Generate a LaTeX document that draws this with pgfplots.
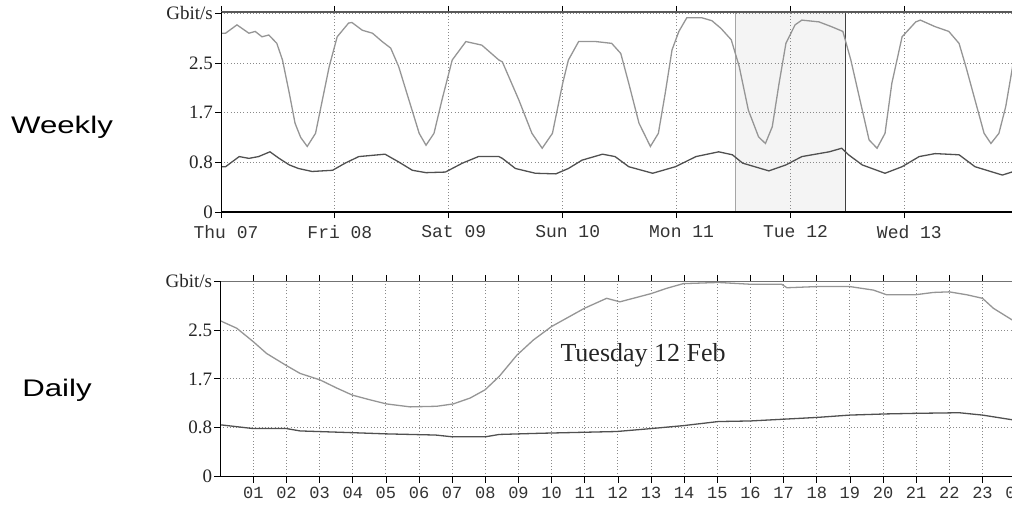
\documentclass[border=0pt]{standalone}
\usepackage{pgfplots}
\pgfplotsset{compat=1.18}
\usepackage{fontspec}
\setmainfont{Liberation Serif}
\newfontfamily\lsans{Liberation Sans}
\newfontfamily\lmono{Liberation Mono}
\definecolor{upc}{HTML}{959595}
\definecolor{loc}{HTML}{505050}
\definecolor{gridc}{HTML}{8A8A8A}
\definecolor{shade}{HTML}{F4F4F4}
\pgfplotsset{
  common/.style={
    scale only axis, set layers,
    axis line style={draw=none},
    tick align=outside, major tick length=6pt,
    tick style={black, line width=0.8pt},
    grid=major,
    major grid style={gridc, line width=0.9pt, dash pattern=on 1pt off 2.2pt},
    ytick={0,0.8333,1.6667,2.5,3.3333},
    yticklabels={0,0.8,1.7,2.5,\raisebox{-4pt}{Gbit/s}},
    yticklabel style={font=\fontsize{19}{19}\selectfont, text=black!85, anchor=east, inner sep=0pt, xshift=-2pt},
    ymin=0,
  },
}
\begin{document}
\begin{tikzpicture}
% Weekly
\begin{axis}[common,
  at={(221pt,295pt)}, anchor=south west,
  width=809pt, height=200pt,
  xmin=0, xmax=7.103, ymax=3.356,
  xtick={0,1,2,3,4,5,6},
  xticklabels={Thu 07,Fri 08,Sat 09,Sun 10,Mon 11,Tue 12,Wed 13},
  xticklabel style={font=\lmono\fontsize{18}{18}\selectfont, text=black!80, anchor=north, inner sep=0pt, yshift=-7pt, xshift=5pt},
]
\addplot[fill=shade, draw=none, on layer=axis background] coordinates {(4.52,0) (4.52,3.356) (5.48,3.356) (5.48,0)} \closedcycle;
\addplot[color=black!35, line width=1pt] coordinates {(4.52,0) (4.52,3.356)};
\addplot[color=black!75, line width=1.2pt] coordinates {(5.48,0) (5.48,3.356)};
\addplot[color=upc, line width=1.3pt] coordinates {
(0.00,3.00) (0.04,3.00) (0.14,3.14) (0.245,3.00) (0.30,3.03) (0.36,2.94) (0.42,2.97) (0.49,2.83) (0.54,2.55) (0.60,1.99) (0.65,1.49) (0.70,1.25) (0.757,1.10) (0.83,1.32) (0.89,1.88) (0.95,2.44) (1.02,2.94) (1.12,3.17) (1.15,3.18) (1.24,3.05) (1.33,3.00) (1.415,2.86) (1.49,2.75) (1.56,2.44) (1.65,1.88) (1.74,1.32) (1.80,1.12) (1.87,1.32) (1.94,1.88) (2.03,2.55) (2.15,2.86) (2.29,2.80) (2.44,2.55) (2.47,2.52) (2.615,1.88) (2.73,1.32) (2.82,1.07) (2.91,1.32) (3.00,2.16) (3.05,2.55) (3.14,2.86) (3.29,2.86) (3.43,2.83) (3.51,2.66) (3.58,2.16) (3.67,1.49) (3.77,1.10) (3.84,1.32) (3.90,1.99) (3.96,2.72) (4.02,3.03) (4.09,3.26) (4.22,3.26) (4.31,3.21) (4.39,3.08) (4.48,2.89) (4.55,2.44) (4.63,1.71) (4.72,1.26) (4.78,1.15) (4.84,1.43) (4.90,2.16) (4.96,2.83) (5.04,3.14) (5.10,3.22) (5.25,3.19) (5.36,3.11) (5.46,3.03) (5.53,2.55) (5.61,1.88) (5.69,1.21) (5.76,1.07) (5.83,1.32) (5.89,2.16) (5.98,2.94) (6.10,3.19) (6.14,3.22) (6.27,3.11) (6.39,3.03) (6.48,2.83) (6.54,2.44) (6.62,1.88) (6.70,1.32) (6.76,1.15) (6.83,1.32) (6.89,1.77) (6.96,2.55) (7.00,2.80)
};
\addplot[color=loc, line width=1.3pt] coordinates {
(0.00,0.76) (0.04,0.76) (0.16,0.93) (0.245,0.90) (0.33,0.93) (0.43,1.01) (0.51,0.90) (0.60,0.79) (0.68,0.73) (0.80,0.68) (0.98,0.70) (1.09,0.82) (1.21,0.93) (1.44,0.97) (1.56,0.84) (1.68,0.70) (1.80,0.66) (1.97,0.67) (2.12,0.82) (2.26,0.93) (2.44,0.93) (2.47,0.90) (2.585,0.73) (2.76,0.65) (2.94,0.64) (3.05,0.73) (3.17,0.87) (3.35,0.97) (3.46,0.93) (3.58,0.76) (3.79,0.65) (3.99,0.76) (4.17,0.93) (4.37,1.01) (4.49,0.96) (4.58,0.82) (4.81,0.69) (4.96,0.79) (5.10,0.93) (5.34,1.01) (5.45,1.07) (5.51,0.96) (5.63,0.79) (5.83,0.65) (5.98,0.76) (6.13,0.93) (6.27,0.98) (6.48,0.96) (6.62,0.76) (6.86,0.62) (6.96,0.68) (7.00,0.68)
};
\draw[black!65, line width=1.2pt] (rel axis cs:0,1) -- (rel axis cs:1,1);
\draw[black, line width=1.6pt] (rel axis cs:0,1) -- (rel axis cs:0,0) -- (rel axis cs:1,0);
\end{axis}
% Daily
\begin{axis}[common,
  at={(220.2pt,30.3pt)}, anchor=south west,
  width=795.4pt, height=195.6pt,
  xmin=0, xmax=24, ymax=3.3333,
  xtick={1,2,3,4,5,6,7,8,9,10,11,12,13,14,15,16,17,18,19,20,21,22,23,24},
  xticklabels={01,02,03,04,05,06,07,08,09,10,11,12,13,14,15,16,17,18,19,20,21,22,23,00},
  xticklabel style={font=\lmono\fontsize{17}{17}\selectfont, text=black!80, anchor=north, inner sep=0pt, yshift=-4pt},
]
\addplot[color=upc, line width=1.3pt] coordinates {
(0,2.66) (0.07,2.64) (0.5,2.53) (1.0,2.30) (1.4,2.10) (1.98,1.90) (2.41,1.76) (3.01,1.65) (3.52,1.51) (3.99,1.39) (4.52,1.31) (5.02,1.24) (5.73,1.19) (6.53,1.20) (7.03,1.24) (7.54,1.34) (7.99,1.48) (8.42,1.71) (8.95,2.07) (9.45,2.33) (10.0,2.56) (10.99,2.87) (11.66,3.04) (12.06,2.98) (13.0,3.12) (13.47,3.21) (13.97,3.29) (15.03,3.31) (15.99,3.28) (16.94,3.28) (17.1,3.22) (18.0,3.24) (19.0,3.24) (19.71,3.18) (20.11,3.10) (20.97,3.10) (21.52,3.14) (22.0,3.15) (22.53,3.10) (23.0,3.04) (23.33,2.87) (23.9,2.67) (24,2.64)
};
\addplot[color=loc, line width=1.3pt] coordinates {
(0,0.88) (0.07,0.88) (1.0,0.82) (2.0,0.82) (2.41,0.78) (4.0,0.75) (5.0,0.73) (6.5,0.71) (7.0,0.68) (8.0,0.68) (8.42,0.72) (9.65,0.74) (11.96,0.77) (13.0,0.82) (13.97,0.87) (15.03,0.94) (16.0,0.95) (17.0,0.98) (18.0,1.01) (19.0,1.05) (20.1,1.07) (21.0,1.08) (22.3,1.09) (23.0,1.05) (23.9,0.97) (24,0.96)
};
\node[font=\fontsize{26}{26}\selectfont, text=black!85] at (axis cs:12.76,2.07) {Tuesday 12 Feb};
\draw[black!55, line width=1.2pt] (rel axis cs:0,1) -- (rel axis cs:1,1);
\draw[black, line width=1.6pt] (rel axis cs:0,1) -- (rel axis cs:0,0) -- (rel axis cs:1,0);
\end{axis}
\node[font=\lsans\fontsize{24}{24}\selectfont] at (62pt,380pt) {\scalebox{1.3}[1]{Weekly}};
\node[font=\lsans\fontsize{24}{24}\selectfont] at (57pt,117pt) {\scalebox{1.3}[1]{Daily}};
\pgfresetboundingbox
\useasboundingbox (0pt,0pt) rectangle (1012pt,507pt);
\end{tikzpicture}
\end{document}
